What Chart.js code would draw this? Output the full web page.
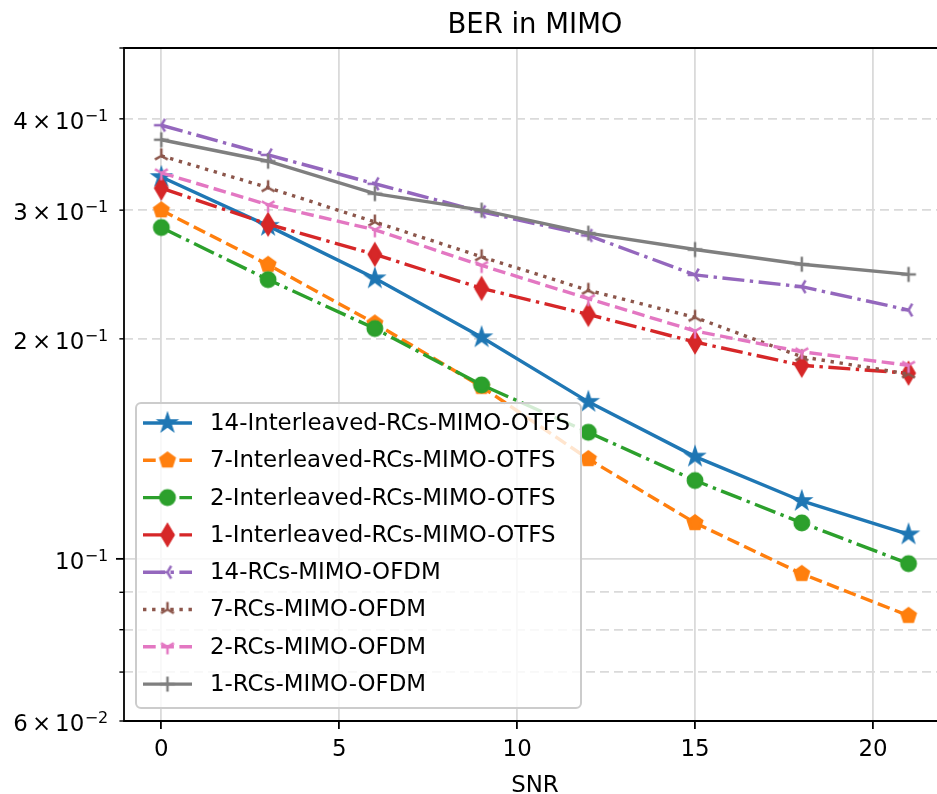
<!DOCTYPE html>
<html>
<head>
<meta charset="utf-8">
<title>BER in MIMO</title>
<script src="https://cdn.jsdelivr.net/npm/chart.js@4.4.1/dist/chart.umd.min.js"></script>
<style>
  html, body { margin: 0; padding: 0; background: #fff; }
  #wrap { width: 937px; height: 794px; }
</style>
</head>
<body>
<div id="wrap"><canvas id="container" width="937" height="794"></canvas></div>
<script>
// values (BER vs SNR)
var snr = [0, 3, 6, 9, 12, 15, 18, 21];
var ber14Otfs = [0.333, 0.2855, 0.242, 0.201, 0.164, 0.138, 0.120, 0.108];
var ber7Otfs  = [0.300, 0.2526, 0.210, 0.172, 0.137, 0.112, 0.0954, 0.0836];
var ber2Otfs  = [0.284, 0.241, 0.2066, 0.173, 0.149, 0.128, 0.112, 0.0985];
var ber1Otfs  = [0.3215, 0.287, 0.261, 0.2345, 0.216, 0.198, 0.184, 0.1795];
var ber14Ofdm = [0.392, 0.357, 0.326, 0.2985, 0.277, 0.2446, 0.2357, 0.219];
var ber7Ofdm  = [0.356, 0.322, 0.289, 0.259, 0.233, 0.214, 0.189, 0.179];
var ber2Ofdm  = [0.3375, 0.305, 0.282, 0.252, 0.227, 0.205, 0.192, 0.184];
var ber1Ofdm  = [0.3745, 0.350, 0.316, 0.300, 0.279, 0.265, 0.253, 0.245];

var seriesNames = ['14-Interleaved-RCs-MIMO-OTFS', '7-Interleaved-RCs-MIMO-OTFS', '2-Interleaved-RCs-MIMO-OTFS',
  '1-Interleaved-RCs-MIMO-OTFS', '14-RCs-MIMO-OFDM', '7-RCs-MIMO-OFDM', '2-RCs-MIMO-OFDM', '1-RCs-MIMO-OFDM'];
var seriesValues = [ber14Otfs, ber7Otfs, ber2Otfs, ber1Otfs, ber14Ofdm, ber7Ofdm, ber2Ofdm, ber1Ofdm];
var seriesColors = ['#1f77b4', '#ff7f0e', '#2ca02c', '#d62728', '#9467bd', '#8c564b', '#e377c2', '#7f7f7f'];
var seriesLines = ['solid', 'dashed', 'dashdot', 'dashdot', 'dashdot', 'dotted', 'dashed', 'solid'];
var seriesMarkers = ['star', 'pentagon', 'circle', 'thin_diamond', 'tri_left', 'tri_up', 'tri_down', 'plus'];

var xTicks = [0, 5, 10, 15, 20];
var yGridValues = [0.06, 0.07, 0.08, 0.09, 0.1, 0.2, 0.3, 0.4, 0.5];
var yLabelValues = [0.06, 0.1, 0.2, 0.3, 0.4];
var yLabelMantissa = ['6', '', '2', '3', '4'];
var yLabelExponent = ['\u22122', '\u22121', '\u22121', '\u22121', '\u22121'];

var FONT = '"DejaVu Sans"';
var dashes = { solid: [], dashed: [12.7, 5.5], dashdot: [22, 5.5, 3.4, 5.5], dotted: [3.4, 5.7] };

function makeMarker(kind, color) {
  var c = document.createElement('canvas');
  c.width = 32; c.height = 32;
  var g = c.getContext('2d');
  g.translate(16, 16);
  g.strokeStyle = color;
  g.fillStyle = color;
  g.lineWidth = 2.3;
  g.beginPath();
  var i, a, r;
  if (kind == 'circle') {
    g.arc(0, 0, 7.3, 0, Math.PI * 2);
    g.fill(); g.stroke();
  } else if (kind == 'star') {
    for (i = 0; i < 10; i++) {
      r = (i % 2) ? 8.6 * 0.382 : 8.6;
      a = -Math.PI / 2 + i * Math.PI / 5;
      if (i == 0) g.moveTo(r * Math.cos(a), r * Math.sin(a)); else g.lineTo(r * Math.cos(a), r * Math.sin(a));
    }
    g.closePath(); g.fill(); g.stroke();
  } else if (kind == 'pentagon') {
    for (i = 0; i < 5; i++) {
      a = -Math.PI / 2 + i * 2 * Math.PI / 5;
      if (i == 0) g.moveTo(7.6 * Math.cos(a), 7.6 * Math.sin(a)); else g.lineTo(7.6 * Math.cos(a), 7.6 * Math.sin(a));
    }
    g.closePath(); g.fill(); g.stroke();
  } else if (kind == 'thin_diamond') {
    g.moveTo(0, -10.4); g.lineTo(6.2, 0); g.lineTo(0, 10.4); g.lineTo(-6.2, 0);
    g.closePath(); g.fill(); g.stroke();
  } else {
    var pts;
    if (kind == 'tri_left') pts = [[-7.4, 0], [3.7, -6.4], [3.7, 6.4]];
    else if (kind == 'tri_up') pts = [[0, -7.4], [-6.4, 3.7], [6.4, 3.7]];
    else if (kind == 'tri_down') pts = [[0, 7.4], [-6.4, -3.7], [6.4, -3.7]];
    else pts = [[-7.4, 0], [7.4, 0], [0, -7.4], [0, 7.4]];
    g.lineWidth = 2.5;
    for (i = 0; i < pts.length; i++) { g.moveTo(0, 0); g.lineTo(pts[i][0], pts[i][1]); }
    g.stroke();
  }
  return c;
}

var markerImages = seriesMarkers.map(function(m, i) { return makeMarker(m, seriesColors[i]); });

var datasets = seriesNames.map(function(name, i) {
  return {
    label: name,
    data: snr.map(function(x, j) { return { x: x, y: seriesValues[i][j] }; }),
    borderColor: seriesColors[i],
    backgroundColor: seriesColors[i],
    borderWidth: 3.4,
    borderDash: dashes[seriesLines[i]],
    pointStyle: markerImages[i],
    pointRadius: 8,
    tension: 0,
    fill: false,
    order: seriesNames.length - 1 - i
  };
});

function roundRect(ctx, x, y, w, h, r) {
  ctx.beginPath();
  ctx.moveTo(x + r, y);
  ctx.arcTo(x + w, y, x + w, y + h, r);
  ctx.arcTo(x + w, y + h, x, y + h, r);
  ctx.arcTo(x, y + h, x, y, r);
  ctx.arcTo(x, y, x + w, y, r);
  ctx.closePath();
}

var decorations = {
  id: 'decorations',
  afterDatasetsDraw: function(chart) {
    var ctx = chart.ctx, a = chart.chartArea, xs = chart.scales.x, ys = chart.scales.y;
    ctx.save();
    ctx.setLineDash([]);
    // spines (right one is outside the picture)
    ctx.strokeStyle = '#000';
    ctx.lineWidth = 1.8;
    ctx.beginPath();
    ctx.moveTo(a.right + 5, a.top);
    ctx.lineTo(a.left, a.top);
    ctx.lineTo(a.left, a.bottom);
    ctx.lineTo(a.right + 5, a.bottom);
    ctx.stroke();

    // y tick marks
    yGridValues.forEach(function(v) {
      var py = ys.getPixelForValue(v);
      var major = (v == 0.1);
      ctx.lineWidth = major ? 1.8 : 1.4;
      ctx.beginPath();
      ctx.moveTo(a.left - (major ? 8 : 4.6), py);
      ctx.lineTo(a.left, py);
      ctx.stroke();
    });

    // y tick labels, m x 10^e
    ctx.fillStyle = '#000';
    ctx.textAlign = 'left';
    ctx.textBaseline = 'alphabetic';
    var right = a.left - 15.7;
    for (var i = 0; i < yLabelValues.length; i++) {
      var py = ys.getPixelForValue(yLabelValues[i]);
      ctx.font = '16px ' + FONT;
      var supW = ctx.measureText(yLabelExponent[i]).width;
      var supX = right - supW;
      ctx.fillText(yLabelExponent[i], supX, py + 2);
      ctx.font = '22.9px ' + FONT;
      var tenW = ctx.measureText('10').width;
      var tenX = supX - 0.5 - tenW;
      ctx.fillText('10', tenX, py + 10.3);
      if (yLabelMantissa[i] != '') {
        var tW = ctx.measureText('\u00d7').width;
        var tX = tenX - 4 - tW;
        ctx.fillText('\u00d7', tX, py + 10.3);
        var mW = ctx.measureText(yLabelMantissa[i]).width;
        ctx.fillText(yLabelMantissa[i], tX - 4 - mW, py + 10.3);
      }
    }

    // title and x label, centred on the full axes width
    var cx = (xs.getPixelForValue(-1.05) + xs.getPixelForValue(22.05)) / 2;
    ctx.textAlign = 'center';
    ctx.font = '27.5px ' + FONT;
    ctx.fillText('BER in MIMO', cx, 33.3);
    ctx.font = '22.9px ' + FONT;
    ctx.fillText('SNR', cx, 791.5);

    // legend
    var lx = a.left + 12, lw = 445, lh = 305;
    var ly = a.bottom - 13 - lh;
    roundRect(ctx, lx, ly, lw, lh, 5);
    ctx.fillStyle = 'rgba(255,255,255,0.8)';
    ctx.fill();
    ctx.strokeStyle = '#cccccc';
    ctx.lineWidth = 2;
    ctx.stroke();
    ctx.textAlign = 'left';
    ctx.textBaseline = 'middle';
    ctx.font = '22.9px ' + FONT;
    for (var k = 0; k < seriesNames.length; k++) {
      var ry = ly + 20 + k * 37.3;
      ctx.strokeStyle = seriesColors[k];
      ctx.lineWidth = 3.4;
      ctx.setLineDash(dashes[seriesLines[k]]);
      ctx.beginPath();
      ctx.moveTo(lx + 7, ry);
      ctx.lineTo(lx + 56, ry);
      ctx.stroke();
      ctx.setLineDash([]);
      var img = markerImages[k];
      ctx.drawImage(img, lx + 31.5 - img.width / 2, ry - img.height / 2);
      ctx.fillStyle = '#000';
      ctx.fillText(seriesNames[k], lx + 74, ry + 1);
    }
    ctx.restore();
  }
};

new Chart(document.getElementById('container'), {
  type: 'line',
  data: { datasets: datasets },
  options: {
    responsive: false,
    animation: false,
    events: [],
    devicePixelRatio: 1,
    layout: { autoPadding: false, padding: { top: 48, left: 0, right: 0, bottom: 0 } },
    plugins: {
      legend: { display: false },
      title: { display: false },
      tooltip: { enabled: false }
    },
    scales: {
      x: {
        type: 'linear',
        min: -1.05,
        max: 21.8,
        bounds: 'data',
        afterBuildTicks: function(scale) {
          scale.ticks = xTicks.map(function(v) { return { value: v }; });
        },
        afterFit: function(scale) {
          scale.height = 73;
          scale.paddingLeft = 0;
          scale.paddingRight = 0;
        },
        grid: {
          color: '#dadada',
          lineWidth: 1.8,
          drawTicks: true,
          tickLength: 8,
          tickColor: '#000',
          tickWidth: 1.8
        },
        border: { display: false },
        ticks: {
          color: '#000',
          padding: 7,
          maxRotation: 0,
          font: { family: 'DejaVu Sans', size: 22.9 },
          callback: function(v) { return String(v); }
        }
      },
      y: {
        type: 'logarithmic',
        min: 0.06,
        max: 0.5,
        bounds: 'data',
        afterBuildTicks: function(scale) {
          scale.ticks = yGridValues.map(function(v) { return { value: v }; });
        },
        afterFit: function(scale) {
          scale.width = 124;
          scale.paddingTop = 0;
          scale.paddingBottom = 0;
        },
        grid: {
          color: '#dadada',
          lineWidth: 1.8,
          drawTicks: false
        },
        border: {
          display: false,
          dash: function(c) { return (c.tick && c.tick.value == 0.1) ? [] : [9, 5]; }
        },
        ticks: { display: false }
      }
    }
  },
  plugins: [decorations]
});
</script>
</body>
</html>
